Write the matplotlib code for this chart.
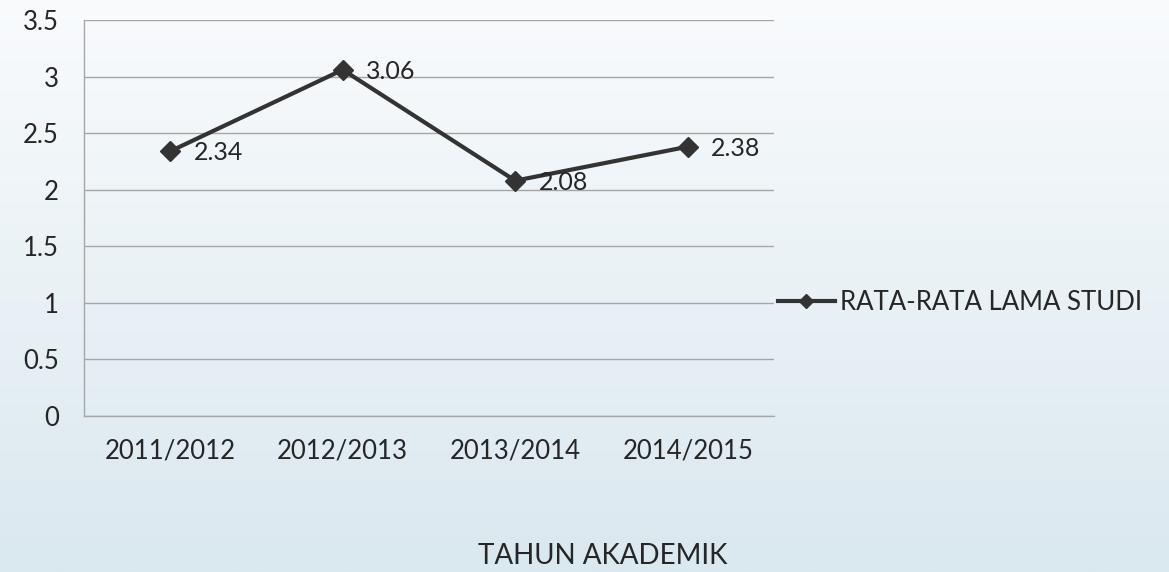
import numpy as np
import matplotlib
matplotlib.use("Agg")
import matplotlib.pyplot as plt
from matplotlib.colors import LinearSegmentedColormap

categories = ["2011/2012", "2012/2013", "2013/2014", "2014/2015"]
values = [2.34, 3.06, 2.08, 2.38]
value_labels = ["2.34", "3.06", "2.08", "2.38"]
y_ticks = [0, 0.5, 1, 1.5, 2, 2.5, 3, 3.5]
y_tick_labels = ["0", "0.5", "1", "1.5", "2", "2.5", "3", "3.5"]
series_name = "RATA-RATA LAMA STUDI"
x_title = "TAHUN AKADEMIK"

plt.rcParams['font.family'] = ['Lato', 'DejaVu Sans']
W, H = 1169, 572
fig = plt.figure(figsize=(W / 100, H / 100), dpi=100)

# background gradient
bg = fig.add_axes([0, 0, 1, 1], zorder=0)
cmap = LinearSegmentedColormap.from_list("bg", ["#f9fbfd", "#dae8ef"])
grad = np.linspace(0, 1, 256).reshape(-1, 1)
bg.imshow(grad, aspect="auto", cmap=cmap, extent=[0, 1, 0, 1], origin="upper")
bg.set_axis_off()

ax = fig.add_axes([84 / W, 1 - 416 / H, (774 - 84) / W, (416 - 20) / H], zorder=1)
ax.patch.set_alpha(0)

txt = "#262626"
x = np.arange(len(categories))
line, = ax.plot(x, values, color="#333333", lw=3, marker="D", ms=10,
                markerfacecolor="#333333", markeredgecolor="#333333",
                label=series_name, zorder=3, solid_joinstyle="round")
for xi, v, lab in zip(x, values, value_labels):
    ax.annotate(lab, (xi, v), xytext=(17, -1), textcoords="offset points",
                ha="left", va="center", fontsize=18, color=txt, zorder=4)

ax.set_xlim(-0.5, len(categories) - 0.5)
ax.set_ylim(0, 3.5)
ax.set_yticks(y_ticks)
ax.set_yticklabels(y_tick_labels)
ax.set_xticks(x)
ax.set_xticklabels(categories)
ax.tick_params(axis="both", length=0, labelsize=18.5, colors=txt)
ax.tick_params(axis="y", pad=18)
ax.tick_params(axis="x", pad=16)
ax.grid(axis="y", color="#a6a6a6", lw=1)
ax.set_axisbelow(True)
for s in ["top", "right"]:
    ax.spines[s].set_visible(False)
for s in ["left", "bottom"]:
    ax.spines[s].set_color("#a6a6a6")
    ax.spines[s].set_linewidth(1)

fig.legend(handles=[line], loc="center left",
           bbox_to_anchor=(778 / W, 1 - 302 / H), frameon=False,
           fontsize=18.5, handlelength=2.2, handletextpad=0.2, markerscale=0.7,
           borderpad=0, borderaxespad=0, labelcolor=txt)

fig.text(603 / W, 1 - 556 / H, x_title, ha="center", va="center",
         fontsize=20, color=txt)

fig.savefig("out.png", dpi=100)
